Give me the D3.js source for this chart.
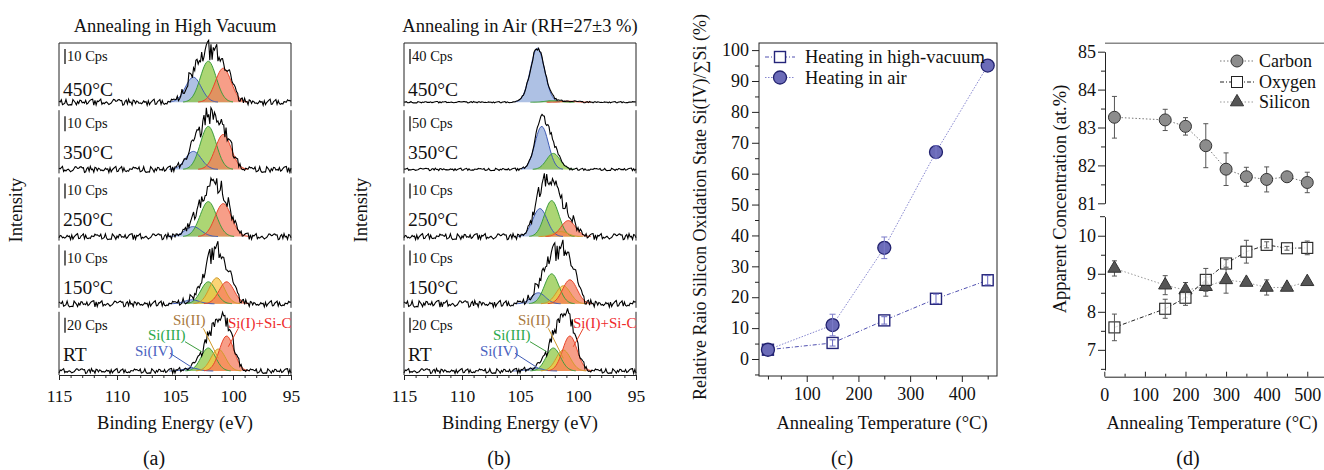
<!DOCTYPE html>
<html>
<head>
<meta charset="utf-8">
<script src="https://d3js.org/d3.v7.min.js"></script>
<style>
body { margin:0; background:#fff; }
svg text { font-family:"Liberation Serif","Times New Roman",serif; }
</style>
</head>
<body>
<svg id="fig" width="1324" height="470"></svg>
<script>
var svg = d3.select('#fig');

// ---------- data: XPS Si 2p panels (a), (b) ----------
var energyTicks = [115, 110, 105, 100, 95];
var panelTemps = ["450°C", "350°C", "250°C", "150°C", "RT"];
var vacCps = ["10 Cps", "10 Cps", "10 Cps", "10 Cps", "20 Cps"];
var airCps = ["40 Cps", "50 Cps", "10 Cps", "10 Cps", "20 Cps"];
var compNames = ["Si(IV)", "Si(III)", "Si(II)", "Si(I)+Si-C"];

// fitted components per panel: [centre eV, height], null = not present
var vacPeaks = [
  [[103.42, 25], [102.13, 41], null, [100.84, 34]],
  [[103.42, 18], [102.13, 43], null, [100.84, 35]],
  [[103.45, 10], [102.13, 35], null, [100.84, 33]],
  [[103.56, 4], [102.13, 22], [101.40, 26], [100.55, 22]],
  [[103.60, 3], [102.13, 23], [101.27, 22], [100.55, 35]]
];
var vacWidth = [0.68, 0.68, 0.7, 0.64, 0.62];
var vacEnv = [1.02, 1.04, 1.15, 1.15, 1.08];
var vacNoise = [3.0, 3.0, 3.0, 3.0, 2.4];

var airPeaks = [
  [[103.50, 54], [102.2, 1.5], null, [100.8, 1]],
  [[103.13, 43], [102.13, 16], null, null],
  [[103.28, 28], [102.27, 36], [101.5, 5], [100.84, 16]],
  [[103.42, 11], [102.27, 30], [101.27, 18], [100.70, 24]],
  [[103.70, 3], [102.13, 23], [101.27, 21], [100.70, 35]]
];
var airWidth = [0.61, 0.58, 0.62, 0.62, 0.62];
var airEnv = [1.0, 1.1, 1.22, 1.3, 1.1];
var airNoise = [0.7, 1.2, 3.0, 3.3, 2.4];

// counting noise of the measured curves, read by eye (relative units)
var noise = [0.3,-0.8,0.5,1.0,-0.2,-0.9,0.7,0.1,-0.5,0.9,-1.0,0.4,0.2,-0.6,0.8,-0.3,-0.7,0.6,0.0,-0.4,
  1.0,-0.8,0.3,0.5,-0.9,0.2,0.7,-0.1,-0.6,0.9,-0.5,0.4,-1.0,0.6,0.1,-0.3,0.8,-0.7,0.2,0.5,
  -0.2,-0.9,0.9,0.3,-0.4,0.6,-0.8,0.0,0.7,-0.5,0.4,-0.6,1.0,-0.1,-0.3,0.5,-1.0,0.8,0.2,-0.7,
  0.3,0.6,-0.4,-0.9,0.9,0.1,-0.2,0.7,-0.6,0.4,-0.8,0.5,0.0,-0.5,1.0,-0.3,0.2,-0.9,0.6,0.8,
  -0.1,-0.7,0.3,-0.4,0.9,-1.0,0.5,0.1,-0.6,0.7,-0.2,0.4,-0.8,0.6,-0.3,0.2,0.9,-0.5,-0.1,0.3];

// ---------- data: panel (c) ----------
var tempC = [25, 150, 250, 350, 450];
var vacRatio = [3, 5.2, 12.5, 19.5, 25.5];
var vacRatioErr = [0.5, 1, 1.2, 1.5, 1.5];
var airRatio = [3, 11, 36, 67, 95];
var airRatioErr = [0.5, 3.5, 3.5, 2, 1];

// ---------- data: panel (d) ----------
var tempD = [25, 150, 200, 250, 300, 350, 400, 450, 500];
var carbon = [83.27, 83.2, 83.03, 82.52, 81.9, 81.7, 81.63, 81.7, 81.55];
var carbonErr = [0.55, 0.28, 0.23, 0.58, 0.43, 0.25, 0.33, 0, 0.27];
var oxygen = [7.59, 8.08, 8.37, 8.84, 9.27, 9.58, 9.76, 9.67, 9.68];
var oxygenErr = [0.35, 0.25, 0.2, 0.3, 0.1, 0.3, 0.08, 0.05, 0.18];
var silicon = [9.14, 8.7, 8.57, 8.66, 8.84, 8.77, 8.64, 8.64, 8.79];
var siliconErr = [0.2, 0.25, 0.2, 0.25, 0.35, 0, 0.2, 0, 0];

// ---------- styles ----------
var compFill = ['#8fa9d9', '#8cc63f', '#f9c440', '#f4795a'];
var compStroke = ['#3f5bb5', '#3c9c3c', '#d09a2a', '#e8452a'];
var compText = ['#4a62c0', '#2aa84a', '#a8783c', '#ee2a2a'];
var frameCol = '#222';

function txt(x, y, s, size, anchor, col) {
  return svg.append('text').attr('x', x).attr('y', y).text(s)
    .style('font-size', size + 'px').attr('text-anchor', anchor || 'start')
    .attr('fill', col || '#111');
}

function styleAxis(g, size) {
  g.attr('font-family', null).attr('font-size', null);
  g.selectAll('text').style('font-size', size + 'px').attr('fill', '#111');
  g.selectAll('line').attr('stroke', frameCol);
  g.select('.domain').attr('stroke', frameCol);
}

// ---------- spectra panels ----------
function drawSpectra(x0, title, peaks, widths, env, amps, cps, letter, cx) {
  var x = d3.scaleLinear().domain([115, 95]).range([x0, x0 + 232]);
  var grid = d3.range(0, 201).map(function (j) { return 115 - j * 0.1; });
  var h = 63.2;

  for (var i = 0; i < 5; i++) {
    var top = 43 + i * 67.2;
    var y = d3.scaleLinear().domain([-4, 59.2]).range([top + h, top]);
    var comps = peaks[i], s = widths[i];
    var gauss = function (p, e) { return p ? p[1] * Math.exp(-(e - p[0]) * (e - p[0]) / (2 * s * s)) : 0; };

    comps.forEach(function (p, k) {
      if (!p) return;
      var pts = grid.filter(function (e) { return Math.abs(e - p[0]) < 3.2 * s; });
      svg.append('path').datum(pts)
        .attr('d', d3.area().x(function (e) { return x(e); }).y0(y(0)).y1(function (e) { return y(gauss(p, e)); }))
        .attr('fill', compFill[k]).attr('fill-opacity', 0.72);
    });
    comps.forEach(function (p, k) {
      if (!p) return;
      var pts = grid.filter(function (e) { return Math.abs(e - p[0]) < 3.2 * s; });
      svg.append('path').datum(pts)
        .attr('d', d3.line().x(function (e) { return x(e); }).y(function (e) { return y(gauss(p, e)); }))
        .attr('fill', 'none').attr('stroke', compStroke[k]).attr('stroke-width', 1);
    });

    var raw = grid.map(function (e, j) {
      var sum = d3.sum(comps, function (p) { return gauss(p, e); });
      return [e, env[i] * sum + amps[i] * noise[(j * 7 + i * 31) % noise.length] * (1 + sum / 22)];
    });
    svg.append('path').datum(raw)
      .attr('d', d3.line().x(function (d) { return x(d[0]); }).y(function (d) { return y(d[1]); }))
      .attr('fill', 'none').attr('stroke', '#000').attr('stroke-width', 1.1);

    // frame sides
    svg.append('line').attr('x1', x0).attr('x2', x0).attr('y1', top).attr('y2', top + h).attr('stroke', frameCol);
    svg.append('line').attr('x1', x0 + 232).attr('x2', x0 + 232).attr('y1', top).attr('y2', top + h).attr('stroke', frameCol);
    if (i === 0) svg.append('line').attr('x1', x0).attr('x2', x0 + 232).attr('y1', top).attr('y2', top).attr('stroke', frameCol);

    // scale bar and temperature
    svg.append('line').attr('x1', x0 + 6).attr('x2', x0 + 6).attr('y1', top + 6).attr('y2', top + 21).attr('stroke', '#000').attr('stroke-width', 1.2);
    txt(x0 + 8, top + 18, cps[i], 14.5);
    txt(x0 + 4, top + (i === 0 ? 53 : 49), panelTemps[i], 19.5);
  }

  // bottom axis
  var ax = svg.append('g').attr('transform', 'translate(0,375)')
    .call(d3.axisBottom(x).tickValues(energyTicks).tickSize(5).tickSizeOuter(0));
  styleAxis(ax, 17.5);
  ax.selectAll('text').attr('dy', 0).attr('y', 27);
  var axm = svg.append('g').attr('transform', 'translate(0,375)')
    .call(d3.axisBottom(x).tickValues(d3.range(96, 115, 1).filter(function (v) { return v % 5 !== 0; })).tickSize(3).tickFormat(''));
  styleAxis(axm, 17);
  axm.select('.domain').remove();

  // component labels with leader lines (RT panel)
  var lab = [[76, 356, 111, 353.3, 134.3, 368.3], [89, 340, 126, 341.7, 142.7, 351.7],
             [114, 325, 144.3, 328.3, 159.3, 358.3], [169, 328, 179.3, 328.3, 169.3, 346.7]];
  lab.forEach(function (l, k) {
    txt(x0 + l[0], l[1], compNames[k], 15, 'start', compText[k]);
    svg.append('line').attr('x1', x0 + l[2]).attr('y1', l[3]).attr('x2', x0 + l[4]).attr('y2', l[5])
      .attr('stroke', compStroke[k]).attr('stroke-width', 1);
  });

  txt(x0 + 116, 31.5, title, 18.5, 'middle');
  txt(x0 + 116, 429, 'Binding Energy (eV)', 18.5, 'middle');
  txt(cx, 465, letter, 20, 'middle');
  svg.append('text').attr('transform', 'translate(' + (x0 - 37) + ',210) rotate(-90)')
    .attr('text-anchor', 'middle').style('font-size', '18.5px').attr('fill', '#111').text('Intensity');
}

drawSpectra(59, 'Annealing in High Vacuum', vacPeaks, vacWidth, vacEnv, vacNoise, vacCps, '(a)', 154);
drawSpectra(404, 'Annealing in Air (RH=27±3 %)', airPeaks, airWidth, airEnv, airNoise, airCps, '(b)', 499);

// ---------- panel (c) ----------
(function () {
  var x = d3.scaleLinear().domain([7.7, 468]).range([759, 997]);
  var y = d3.scaleLinear().domain([-5.5, 102.3]).range([376, 43]);
  var violet = '#5050b0', light = '#8686d0';

  svg.append('rect').attr('x', 759).attr('y', 43).attr('width', 238).attr('height', 333)
    .attr('fill', 'none').attr('stroke', frameCol);

  var ay = svg.append('g').attr('transform', 'translate(759,0)')
    .call(d3.axisLeft(y).tickValues(d3.range(0, 101, 10)).tickSize(7).tickPadding(3).tickFormat(d3.format('d')));
  styleAxis(ay, 18); ay.select('.domain').remove();
  var aym = svg.append('g').attr('transform', 'translate(759,0)')
    .call(d3.axisLeft(y).tickValues(d3.range(-5, 101, 10)).tickSize(4).tickFormat(''));
  styleAxis(aym, 18); aym.select('.domain').remove();

  var ax = svg.append('g').attr('transform', 'translate(0,376)')
    .call(d3.axisBottom(x).tickValues([100, 200, 300, 400]).tickSize(6).tickFormat(d3.format('d')));
  styleAxis(ax, 18); ax.select('.domain').remove();
  ax.selectAll('text').attr('dy', 0).attr('y', 24);
  var axm = svg.append('g').attr('transform', 'translate(0,376)')
    .call(d3.axisBottom(x).tickValues([25, 50, 150, 250, 350, 450]).tickSize(3.5).tickFormat(''));
  styleAxis(axm, 18); axm.select('.domain').remove();

  var line = d3.line().x(function (d) { return x(d[0]); }).y(function (d) { return y(d[1]); });
  var vac = tempC.map(function (t, i) { return [t, vacRatio[i], vacRatioErr[i]]; });
  var air = tempC.map(function (t, i) { return [t, airRatio[i], airRatioErr[i]]; });

  svg.append('path').datum(vac).attr('d', line).attr('fill', 'none').attr('stroke', violet)
    .attr('stroke-width', 1).attr('stroke-dasharray', '4,2,1,2');
  svg.append('path').datum(air).attr('d', line).attr('fill', 'none').attr('stroke', light)
    .attr('stroke-width', 1).attr('stroke-dasharray', '1.5,1.5');

  function errBars(data, col) {
    data.forEach(function (d) {
      if (!d[2]) return;
      var g = svg.append('g').attr('stroke', col).attr('stroke-width', 1);
      g.append('line').attr('x1', x(d[0])).attr('x2', x(d[0])).attr('y1', y(d[1] - d[2])).attr('y2', y(d[1] + d[2]));
      [d[1] - d[2], d[1] + d[2]].forEach(function (v) {
        g.append('line').attr('x1', x(d[0]) - 3).attr('x2', x(d[0]) + 3).attr('y1', y(v)).attr('y2', y(v));
      });
    });
  }

  svg.selectAll('.sqc').data(vac).enter().append('rect')
    .attr('x', function (d) { return x(d[0]) - 5.5; }).attr('y', function (d) { return y(d[1]) - 5.5; })
    .attr('width', 11).attr('height', 11).attr('fill', '#fff').attr('stroke', '#25257a').attr('stroke-width', 1.4);
  errBars(vac, '#6a6ac0');
  svg.selectAll('.cic').data(air).enter().append('circle')
    .attr('cx', function (d) { return x(d[0]); }).attr('cy', function (d) { return y(d[1]); }).attr('r', 6.5)
    .attr('fill', '#6b6bb8').attr('stroke', '#22226e').attr('stroke-width', 1.3);
  errBars(air.filter(function (d) { return d[0] > 25 && d[0] < 400; }), '#7a7ac8');

  // legend
  svg.append('line').attr('x1', 765).attr('x2', 795).attr('y1', 57).attr('y2', 57).attr('stroke', violet).attr('stroke-dasharray', '4,2,1,2');
  svg.append('rect').attr('x', 774.5).attr('y', 51.5).attr('width', 11).attr('height', 11).attr('fill', '#fff').attr('stroke', '#25257a').attr('stroke-width', 1.4);
  txt(805, 63, 'Heating in high-vacuum', 18.5);
  svg.append('line').attr('x1', 765).attr('x2', 795).attr('y1', 77.5).attr('y2', 77.5).attr('stroke', light).attr('stroke-dasharray', '1.5,1.5');
  svg.append('circle').attr('cx', 780).attr('cy', 77.5).attr('r', 6.5).attr('fill', '#6b6bb8').attr('stroke', '#22226e').attr('stroke-width', 1.3);
  txt(805, 83.5, 'Heating in air', 18.5);

  txt(882, 429, 'Annealing Temperature (°C)', 18.5, 'middle');
  txt(842, 465, '(c)', 20, 'middle');
  svg.append('text').attr('transform', 'translate(706,207) rotate(-90)')
    .attr('text-anchor', 'middle').style('font-size', '18px').attr('fill', '#111')
    .text('Relative Raio Silicon Oxidation State Si(IV)/∑Si (%)');
})();

// ---------- panel (d) ----------
(function () {
  var x = d3.scaleLinear().domain([0, 540]).range([1104.3, 1323.5]);
  var yT = d3.scaleLinear().domain([81, 85]).range([203.3, 51.7]);
  var yB = d3.scaleLinear().domain([6.47, 10.5]).range([370, 216.7]);
  var fmt = d3.format('d');

  svg.append('line').attr('x1', 1105).attr('x2', 1324).attr('y1', 43.3).attr('y2', 43.3).attr('stroke', '#888').attr('stroke-width', 1.5);

  var a1 = svg.append('g').attr('transform', 'translate(1105,0)')
    .call(d3.axisLeft(yT).tickValues([81, 82, 83, 84, 85]).tickSize(7).tickSizeOuter(0).tickPadding(2).tickFormat(fmt));
  styleAxis(a1, 18);
  var a1m = svg.append('g').attr('transform', 'translate(1105,0)')
    .call(d3.axisLeft(yT).tickValues([81.5, 82.5, 83.5, 84.5]).tickSize(4).tickFormat(''));
  styleAxis(a1m, 18); a1m.select('.domain').remove();

  var a2 = svg.append('g').attr('transform', 'translate(1105,0)')
    .call(d3.axisLeft(yB).tickValues([7, 8, 9, 10]).tickSize(7).tickSizeOuter(0).tickPadding(2).tickFormat(fmt));
  styleAxis(a2, 18);
  var a2m = svg.append('g').attr('transform', 'translate(1105,0)')
    .call(d3.axisLeft(yB).tickValues([6.5, 7.5, 8.5, 9.5]).tickSize(4).tickFormat(''));
  styleAxis(a2m, 18); a2m.select('.domain').remove();
  svg.append('line').attr('x1', 1100).attr('x2', 1105).attr('y1', 216.7).attr('y2', 216.7).attr('stroke', frameCol);

  var ax = svg.append('g').attr('transform', 'translate(0,376.7)')
    .call(d3.axisBottom(x).tickValues([0, 100, 200, 300, 400, 500]).tickSize(-5).tickSizeOuter(0).tickFormat(fmt));
  styleAxis(ax, 18);
  ax.selectAll('text').attr('dy', 0).attr('y', 24.5);
  var axm = svg.append('g').attr('transform', 'translate(0,376.7)')
    .call(d3.axisBottom(x).tickValues([50, 150, 250, 350, 450]).tickSize(-3).tickFormat(''));
  styleAxis(axm, 18); axm.select('.domain').remove();

  function series(vals, errs, yS) {
    return tempD.map(function (t, i) { return [t, vals[i], errs[i], yS]; });
  }
  var cS = series(carbon, carbonErr, yT), oS = series(oxygen, oxygenErr, yB), sS = series(silicon, siliconErr, yB);
  function ln(data, col, dash) {
    svg.append('path').datum(data)
      .attr('d', d3.line().x(function (d) { return x(d[0]); }).y(function (d) { return d[3](d[1]); }))
      .attr('fill', 'none').attr('stroke', col).attr('stroke-width', 1).attr('stroke-dasharray', dash);
  }
  function eb(data) {
    data.forEach(function (d) {
      if (!d[2]) return;
      var g = svg.append('g').attr('stroke', '#555').attr('stroke-width', 1);
      g.append('line').attr('x1', x(d[0])).attr('x2', x(d[0])).attr('y1', d[3](d[1] - d[2])).attr('y2', d[3](d[1] + d[2]));
      [d[1] - d[2], d[1] + d[2]].forEach(function (v) {
        g.append('line').attr('x1', x(d[0]) - 2.5).attr('x2', x(d[0]) + 2.5).attr('y1', d[3](v)).attr('y2', d[3](v));
      });
    });
  }
  ln(cS, '#777', '1.5,2'); ln(sS, '#999', '1.5,2'); ln(oS, '#222', '4,2,1,2');

  var tri = d3.symbol().type(d3.symbolTriangle).size(75);
  eb(sS);
  svg.selectAll('.tri').data(sS).enter().append('path').attr('d', tri)
    .attr('transform', function (d) { return 'translate(' + x(d[0]) + ',' + d[3](d[1]) + ')'; })
    .attr('fill', '#555').attr('stroke', '#333').attr('stroke-width', 1);
  eb(cS);
  svg.selectAll('.cir').data(cS).enter().append('circle')
    .attr('cx', function (d) { return x(d[0]); }).attr('cy', function (d) { return d[3](d[1]); }).attr('r', 6)
    .attr('fill', '#8c8c8c').attr('stroke', '#333').attr('stroke-width', 1);
  svg.selectAll('.sq').data(oS).enter().append('rect')
    .attr('x', function (d) { return x(d[0]) - 5.5; }).attr('y', function (d) { return d[3](d[1]) - 5.5; })
    .attr('width', 11).attr('height', 11).attr('fill', '#fff').attr('fill-opacity', 0.85).attr('stroke', '#222').attr('stroke-width', 1.1);
  eb(oS);

  // legend
  var ly = [61, 82, 102];
  svg.append('line').attr('x1', 1220).attr('x2', 1255).attr('y1', ly[0]).attr('y2', ly[0]).attr('stroke', '#777').attr('stroke-dasharray', '1.5,2');
  svg.append('circle').attr('cx', 1237).attr('cy', ly[0]).attr('r', 6).attr('fill', '#8c8c8c').attr('stroke', '#333');
  txt(1259, ly[0] + 6, 'Carbon', 18);
  svg.append('line').attr('x1', 1220).attr('x2', 1255).attr('y1', ly[1]).attr('y2', ly[1]).attr('stroke', '#222').attr('stroke-dasharray', '4,2,1,2');
  svg.append('rect').attr('x', 1231.5).attr('y', ly[1] - 5.5).attr('width', 11).attr('height', 11).attr('fill', '#fff').attr('stroke', '#222');
  txt(1259, ly[1] + 6, 'Oxygen', 18);
  svg.append('line').attr('x1', 1220).attr('x2', 1255).attr('y1', ly[2]).attr('y2', ly[2]).attr('stroke', '#999').attr('stroke-dasharray', '1.5,2');
  svg.append('path').attr('d', tri).attr('transform', 'translate(1237,' + ly[2] + ')').attr('fill', '#555').attr('stroke', '#333');
  txt(1259, ly[2] + 6, 'Silicon', 18);

  txt(1212, 429, 'Annealing Temperature (°C)', 18.5, 'middle');
  txt(1188, 465, '(d)', 20, 'middle');
  svg.append('text').attr('transform', 'translate(1066,199) rotate(-90)')
    .attr('text-anchor', 'middle').style('font-size', '18.5px').attr('fill', '#111')
    .text('Apparent Concentration (at.%)');
})();
</script>
</body>
</html>
